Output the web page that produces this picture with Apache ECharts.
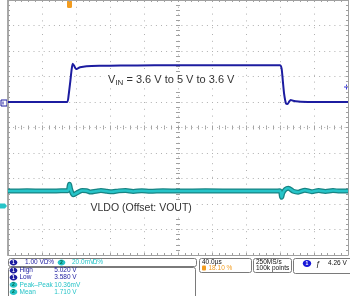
<!DOCTYPE html>
<html><head><meta charset="utf-8">
<script src="https://cdn.jsdelivr.net/npm/echarts/dist/echarts.min.js"></script>
<style>html,body{margin:0;padding:0;background:#fff}#c{width:350px;height:296px}</style>
</head><body><div id="c"></div>
<script>
// ---- data (time in µs, trigger at t = 0; 40 µs/div) ----
const timeMin = -72.35, timeMax = 327.65;
// Channel 1: VIN (V), 1.00 V/div
const ch1Time = [-72.35,-40,-10,-2.6,-1,1,2.5,3.8,5.5,7.6,10,12.4,20,35,60,100,180,247.5,249.5,251,252.5,254.7,256.5,258.5,260.2,263,266,272,290,327.65];
const ch1Volt = [3.58,3.58,3.58,3.58,3.85,4.4,4.85,5.08,5.0,4.87,4.9,4.94,4.98,5.0,5.01,5.02,5.02,5.02,4.9,4.4,3.9,3.52,3.5,3.6,3.66,3.63,3.61,3.59,3.58,3.58];
// Channel 2: VLDO AC deviation from VOUT (mV), 20 mV/div
const ch2Time = [-72.35,-50,-30,-10,-2,0,1.5,4.5,7,11,15,20,25,31,37,44,50,58,66,75,85,95,110,130,160,200,240,247.6,249.6,251,254,257.4,263.3,269,277,285,293,301,310,318,327.65];
const ch2MilliVolt = [0,0.1,-0.1,0.1,0.2,5.3,1.0,-3.0,-2.2,-0.6,0.4,0.2,-0.8,-0.2,0.4,-0.2,-0.6,0.1,0.3,-0.3,0.2,-0.2,0.1,0,0.1,0,0,0.1,-5.0,-1.5,1.3,2.2,-0.2,-0.9,0.6,-0.5,0.4,-0.3,0.3,-0.1,0];
// labels
const vinLabel = ['V','IN',' = 3.6 V to 5 V to 3.6 V'];
const vldoLabel = 'VLDO (Offset: VOUT)';
const chScale = ['1.00 V','Ω%','20.0mV','Ω%'];
const measNames = ['High','Low','Peak\u2013Peak','Mean'];
const measValues = ['5.020 V','3.580 V','10.36mV','1.710 V'];
const measChannel = [1,1,2,2];
const timebase = ['40.0µs','18.10 %'];
const acquisition = ['250MS/s','100k points'];
const trigger = '4.26 V';

const C1 = '#1c1ca0', C2 = '#26c4c8', C2D = '#178383', ORANGE = '#f39c1f';
const GRIDC = '#b0b0b0', FRAME = '#a0a0a0';
const F = 'Liberation Sans, Arial, sans-serif';

const zip = (a, b) => a.map((v, i) => [v, b[i]]);

const divAxis = (extra) => Object.assign({
  type: 'value', min: -5, max: 5, interval: 1,
  axisLabel: { show: false },
  splitLine: { show: false },
  axisLine: { show: true, onZero: false, lineStyle: { color: FRAME, width: 1 } },
  axisTick: { show: true, inside: true, length: 2, lineStyle: { color: FRAME } },
  minorTick: { show: true, splitNumber: 5, length: 2, lineStyle: { color: FRAME } }
}, extra);

const chart = echarts.init(document.getElementById('c'), null, { renderer: 'canvas' });

const graphics = [];
// channel / trigger markers
graphics.push({ type: 'rect', shape: { x: 1, y: 100, width: 6, height: 6 }, style: { fill: '#fff', stroke: C1, lineWidth: 1 } });
graphics.push({ type: 'line', shape: { x1: 3, y1: 101.5, x2: 3, y2: 104.5 }, style: { stroke: C1, lineWidth: 1 } });
graphics.push({ type: 'polygon', shape: { points: [[0, 203.5], [5, 203.5], [7, 206], [5, 208.5], [0, 208.5]] }, style: { fill: C2 } });
graphics.push({ type: 'rect', shape: { x: 67, y: 0, width: 5, height: 8, r: 1.5 }, style: { fill: ORANGE } });
graphics.push({ type: 'line', shape: { x1: 344, y1: 87, x2: 349, y2: 87 }, style: { stroke: '#3a3ae0', lineWidth: 1 } });
graphics.push({ type: 'line', shape: { x1: 346.5, y1: 84.5, x2: 346.5, y2: 89.5 }, style: { stroke: '#3a3ae0', lineWidth: 1 } });
// annotations
graphics.push({ type: 'rect', shape: { x: 105, y: 72, width: 133, height: 16 }, style: { fill: '#fff' }, z: 5 });
graphics.push({ type: 'text', x: 108, y: 80, z: 6, style: { text: vinLabel[0], font: '11px ' + F, fill: '#333', verticalAlign: 'middle' } });
graphics.push({ type: 'text', x: 115.4, y: 83, z: 6, style: { text: vinLabel[1], font: '8px ' + F, fill: '#333', verticalAlign: 'middle' } });
graphics.push({ type: 'text', x: 123.4, y: 80, z: 6, style: { text: vinLabel[2], font: '11px ' + F, fill: '#333', verticalAlign: 'middle' } });
graphics.push({ type: 'rect', shape: { x: 88, y: 200, width: 106, height: 16 }, style: { fill: '#fff' }, z: 5 });
graphics.push({ type: 'text', x: 90.5, y: 208, z: 6, style: { text: vldoLabel, font: '10.5px ' + F, fill: '#333', verticalAlign: 'middle' } });

// bottom panels
const box = (x, y, w, h) => ({ type: 'rect', shape: { x: x + 0.5, y: y + 0.5, width: w, height: h, r: 2 }, style: { fill: '#fff', stroke: '#7a7a7a', lineWidth: 1 } });
const txt = (x, y, t, c, size) => ({ type: 'text', x: x, y: y, style: { text: t, font: (size || 6.5) + 'px ' + F, fill: c, verticalAlign: 'middle' } });
const chIcon = (cx, cy, ch) => [
  { type: 'ellipse', shape: { cx: cx, cy: cy, rx: 3.8, ry: 3 }, style: { fill: ch === 1 ? C1 : C2 } },
  { type: 'text', x: cx, y: cy, style: { text: String(ch), font: 'bold 5px ' + F, fill: ch === 1 ? '#fff' : '#064', align: 'center', verticalAlign: 'middle' } }
];
graphics.push(box(8, 258, 188, 8));
graphics.push(...chIcon(13.5, 262.5, 1));
graphics.push(txt(25, 262.5, chScale[0], C1));
graphics.push(txt(43.5, 262.5, chScale[1], C1));
graphics.push(...chIcon(61.5, 262.5, 2));
graphics.push(txt(72, 262.5, chScale[2], C2));
graphics.push(txt(92.5, 262.5, chScale[3], C2));
graphics.push(box(8, 267, 187, 32));
const rowY = [270.5, 277.5, 284.8, 292];
measNames.forEach((n, i) => {
  const c = measChannel[i] === 1 ? C1 : C2;
  graphics.push(...chIcon(13.5, rowY[i], measChannel[i]));
  graphics.push(txt(19.5, rowY[i], n, c));
  graphics.push(txt(54.3, rowY[i], measValues[i], c));
});
graphics.push(box(199, 258, 52, 14));
graphics.push(txt(202, 262, timebase[0], '#111'));
graphics.push({ type: 'rect', shape: { x: 202, y: 265.5, width: 4, height: 5, r: 1 }, style: { fill: ORANGE } });
graphics.push(txt(208.5, 268.3, timebase[1], ORANGE));
graphics.push(box(253, 258, 38, 14));
graphics.push(txt(256, 262, acquisition[0], '#111'));
graphics.push(txt(256, 268.3, acquisition[1], '#111'));
graphics.push(box(293, 258, 60, 15));
graphics.push({ type: 'ellipse', shape: { cx: 307, cy: 263.5, rx: 4.2, ry: 3.4 }, style: { fill: '#1818d8' } });
graphics.push({ type: 'text', x: 307, y: 263.5, style: { text: '1', font: 'bold 5px ' + F, fill: '#fff', align: 'center', verticalAlign: 'middle' } });
graphics.push(txt(316, 263.5, 'ƒ', '#111', 8));
graphics.push(txt(328, 263.5, trigger, '#111'));

const centerTicks = (inside) => ({ show: true, inside: inside, length: 2, lineStyle: { color: FRAME } });

chart.setOption({
  animation: false,
  backgroundColor: '#fff',
  grid: { left: 8, right: 2, top: 0, bottom: 41, show: false },
  xAxis: [
    divAxis({ position: 'bottom', axisLine: { show: false, onZero: true, onZeroAxisIndex: 0 }, axisTick: centerTicks(true),
      splitLine: { show: true, lineStyle: { color: GRIDC, width: 1, type: [1, 5.8] } } }),
    divAxis({ position: 'bottom', axisLine: { show: false, onZero: true, onZeroAxisIndex: 0 }, axisTick: centerTicks(false) }),
    divAxis({ position: 'top' }),
    divAxis({ position: 'bottom' }),
    { type: 'value', min: timeMin, max: timeMax, show: false }
  ],
  yAxis: [
    divAxis({ position: 'left', axisLine: { show: false, onZero: true, onZeroAxisIndex: 0 }, axisTick: centerTicks(true),
      splitLine: { show: true, lineStyle: { color: GRIDC, width: 1, type: [1, 4.1] } } }),
    divAxis({ position: 'left', axisLine: { show: false, onZero: true, onZeroAxisIndex: 0 }, axisTick: centerTicks(false) }),
    divAxis({ position: 'left', axisLine: { show: true, onZero: false, lineStyle: { color: '#a8a8a8', width: 2 } } }),
    divAxis({ position: 'right' }),
    { type: 'value', min: -2.42, max: 7.58, show: false },
    { type: 'value', min: -50.2, max: 149.8, show: false }
  ],
  series: [
    { type: 'line', xAxisIndex: 4, yAxisIndex: 5, data: zip(ch2Time, ch2MilliVolt), showSymbol: false, smooth: 0.3,
      lineStyle: { color: C2D, width: 5 }, z: 3 },
    { type: 'line', xAxisIndex: 4, yAxisIndex: 5, data: zip(ch2Time, ch2MilliVolt), showSymbol: false, smooth: 0.3,
      lineStyle: { color: C2, width: 2.5 }, z: 4 },
    { type: 'line', xAxisIndex: 4, yAxisIndex: 4, data: zip(ch1Time, ch1Volt), showSymbol: false, smooth: 0.2,
      lineStyle: { color: C1, width: 2 }, z: 4 }
  ],
  graphic: graphics
});
</script></body></html>
